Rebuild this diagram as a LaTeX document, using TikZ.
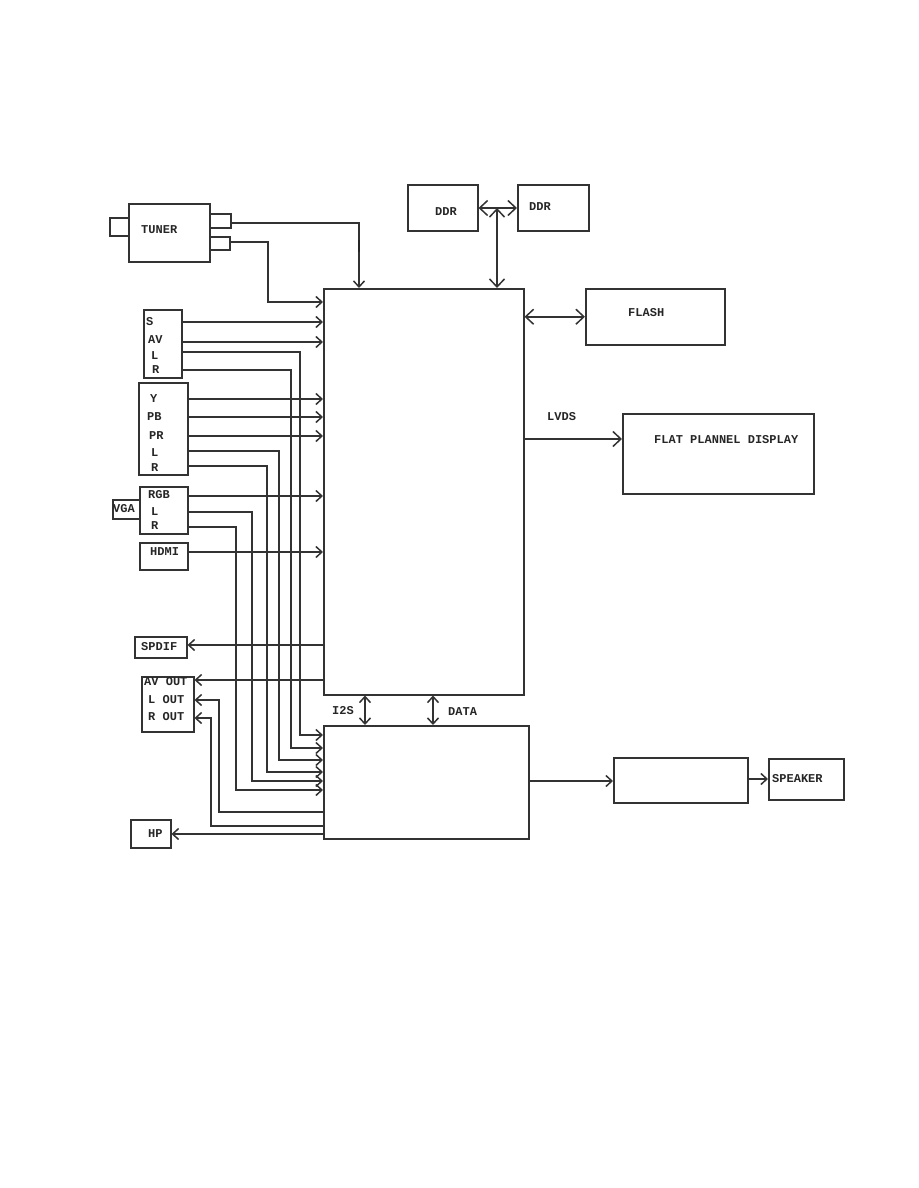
\documentclass[tikz,border=0pt]{standalone}
\usepackage{fontspec}
\setmonofont{Liberation Mono}
\usetikzlibrary{arrows.meta}
\begin{document}
\begin{tikzpicture}[x=1pt,y=-1pt,
  >={Straight Barb[length=6pt,width=11pt]},
  big/.style={>={Straight Barb[length=8pt,width=15pt]}},
  blk/.style={draw=black!80,line width=1.5pt,inner sep=0pt,anchor=north west},
  txt/.style={font=\ttfamily\bfseries\fontsize{12}{12}\selectfont,text=black!85,anchor=west,inner sep=0pt},
  wire/.style={draw=black!80,line width=1.5pt}]
\path[use as bounding box] (0,0) rectangle (918,1188);
% blocks
\node[blk,minimum width=81pt,minimum height=58pt] (tuner) at (128,203) {};
\node[blk,minimum width=19pt,minimum height=18pt] (tant) at (109,217) {};
\node[blk,minimum width=21pt,minimum height=14pt] (tc1) at (209,213) {};
\node[blk,minimum width=20pt,minimum height=13pt] (tc2) at (209,236) {};
\node[blk,minimum width=70pt,minimum height=46pt] (ddr1) at (407,184) {};
\node[blk,minimum width=71pt,minimum height=46pt] (ddr2) at (517,184) {};
\node[blk,minimum width=200pt,minimum height=406pt] (main) at (323,288) {};
\node[blk,minimum width=139pt,minimum height=56pt] (flash) at (585,288) {};
\node[blk,minimum width=191pt,minimum height=80pt] (fpd) at (622,413) {};
\node[blk,minimum width=38pt,minimum height=68pt] (sav) at (143,309) {};
\node[blk,minimum width=49pt,minimum height=92pt] (ypbpr) at (138,382) {};
\node[blk,minimum width=48pt,minimum height=47pt] (rgb) at (139,486) {};
\node[blk,minimum width=27pt,minimum height=19pt] (vga) at (112,499) {};
\node[blk,minimum width=48pt,minimum height=27pt] (hdmi) at (139,542) {};
\node[blk,minimum width=52pt,minimum height=21pt] (spdif) at (134,636) {};
\node[blk,minimum width=52pt,minimum height=55pt] (avout) at (141,676) {};
\node[blk,minimum width=40pt,minimum height=28pt] (hp) at (130,819) {};
\node[blk,minimum width=205pt,minimum height=113pt] (dsp) at (323,725) {};
\node[blk,minimum width=134pt,minimum height=45pt] (amp) at (613,757) {};
\node[blk,minimum width=75pt,minimum height=41pt] (spk) at (768,758) {};
% texts
\node[txt] (ttuner) at (141,230) {TUNER};
\node[txt] (tddr1) at (435,212) {DDR};
\node[txt] (tddr2) at (529,207) {DDR};
\node[txt] (tflash) at (628,313) {FLASH};
\node[txt] (tlvds) at (547,417) {LVDS};
\node[txt] (tfpd) at (654,440) {FLAT PLANNEL DISPLAY};
\node[txt] (tspk) at (772,779) {SPEAKER};
\node[txt] (ts) at (146,322) {S};
\node[txt] (tav) at (148,340) {AV};
\node[txt] (tl1) at (151,356) {L};
\node[txt] (tr1) at (152,370) {R};
\node[txt] (ty) at (150,399) {Y};
\node[txt] (tpb) at (147,417) {PB};
\node[txt] (tpr) at (149,436) {PR};
\node[txt] (tl2) at (151,453) {L};
\node[txt] (tr2) at (151,468) {R};
\node[txt] (trgb) at (148,495) {RGB};
\node[txt] (tl3) at (151,512) {L};
\node[txt] (tr3) at (151,526) {R};
\node[txt] (tvga) at (113,509) {VGA};
\node[txt] (thdmi) at (150,552) {HDMI};
\node[txt] (tspdif) at (141,647) {SPDIF};
\node[txt] (tavout) at (144,682) {AV OUT};
\node[txt] (tlout) at (148,700) {L OUT};
\node[txt] (trout) at (148,717) {R OUT};
\node[txt] (thp) at (148,834) {HP};
\node[txt] (ti2s) at (332,711) {I2S};
\node[txt] (tdata) at (448,712) {DATA};
% tuner
\draw[wire,->] (tc1.east |- 0,223) -| (main.north -| 359,0);
\draw[draw=black!85,line width=2.6pt] (359,240) -- (359,252);
\draw[wire,->] (tc2.east |- 0,242) -| (268,302) -- (main.west |- 0,302);
% DDR / flash / display
\coordinate (ddrj) at (497,208);
\draw[wire,big,<->] (ddr1.east |- ddrj) -- (ddr2.west |- ddrj);
\draw[wire,big,<->] (ddrj) -- (main.north -| ddrj);
\draw[wire,big,<->] (main.east |- flash.west) -- (flash.west);
\draw[wire,big,->] (main.east |- 0,439) -- (fpd.west |- 0,439);
% inputs to main
\draw[wire,->] (sav.east |- 0,322) -- (main.west |- 0,322);
\draw[wire,->] (sav.east |- 0,342) -- (main.west |- 0,342);
\draw[wire,->] (ypbpr.east |- 0,399) -- (main.west |- 0,399);
\draw[wire,->] (ypbpr.east |- 0,417) -- (main.west |- 0,417);
\draw[wire,->] (ypbpr.east |- 0,436) -- (main.west |- 0,436);
\draw[wire,->] (rgb.east |- 0,496) -- (main.west |- 0,496);
\draw[wire,->] (hdmi.east |- 0,552) -- (main.west |- 0,552);
% audio inputs to dsp
\draw[wire,->] (sav.east |- 0,352) -| (300,735) -- (dsp.west |- 0,735);
\draw[wire,->] (sav.east |- 0,370) -| (291,748) -- (dsp.west |- 0,748);
\draw[wire,->] (ypbpr.east |- 0,451) -| (279,760) -- (dsp.west |- 0,760);
\draw[wire,->] (ypbpr.east |- 0,466) -| (267,772) -- (dsp.west |- 0,772);
\draw[wire,->] (rgb.east |- 0,512) -| (252,781) -- (dsp.west |- 0,781);
\draw[wire,->] (rgb.east |- 0,527) -| (236,790) -- (dsp.west |- 0,790);
% outputs
\draw[wire,->] (main.west |- 0,645) -- (spdif.east |- 0,645);
\draw[wire,->] (main.west |- 0,680) -- (avout.east |- 0,680);
\draw[wire,->] (dsp.west |- 0,812) -| (219,700) -- (avout.east |- 0,700);
\draw[wire,->] (dsp.west |- 0,826) -| (211,718) -- (avout.east |- 0,718);
\draw[wire,->] (dsp.west |- 0,834) -- (hp.east |- 0,834);
% main <-> dsp
\draw[wire,<->] (main.south -| 365,0) -- (dsp.north -| 365,0);
\draw[wire,<->] (main.south -| 433,0) -- (dsp.north -| 433,0);
% amp
\draw[wire,->] (dsp.east |- 0,781) -- (amp.west |- 0,781);
\draw[wire,->] (amp.east |- 0,779) -- (spk.west |- 0,779);
\end{tikzpicture}
\end{document}
